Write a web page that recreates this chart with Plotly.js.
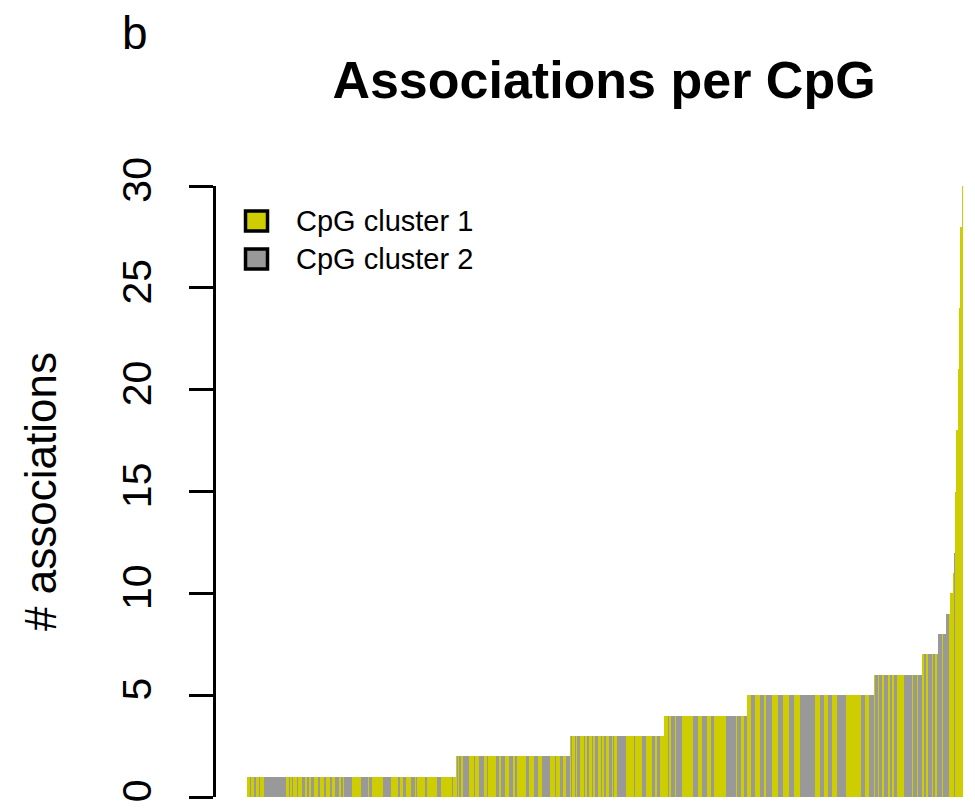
<!DOCTYPE html>
<html>
<head>
<meta charset="utf-8">
<script src="https://cdn.plot.ly/plotly-3.0.1.min.js"></script>
<style>
  html, body { margin: 0; padding: 0; background: #ffffff; }
  #chart { width: 975px; height: 810px; }
</style>
</head>
<body>
<div id="chart"></div>
<script>
// Number of associations per CpG, CpGs sorted by count.
// Each level lists how many CpGs have that many associations.
const assocLevels = [1, 2, 3, 4, 5, 6, 7, 8, 9, 10, 11, 12, 15, 18, 21, 24, 28, 30];
const cpgsPerLevel = [159, 87, 72, 63, 97, 37, 12, 6, 3, 2, 1, 1, 1, 1, 1, 1, 1, 1];

// Cluster membership of the CpGs inside each level, left to right,
// as runs: "y" = CpG cluster 1, "g" = CpG cluster 2.
const clusterRuns = [
  "y2 g1 y2 g2 y2 g1 y3 g17 y2 g1 y1 g1 y3 g1 y3 g2 y2 g1 y2 g2 y3 g2 y3 g1 y3 g2 y2 g3 y2 g1 y1 g6 y7 g5 y1 g2 y9 g6 y5 g2 y2 g2 y4 g3 y1 g1 y6 g1 y8 g3 y8 g1 y2",
  "y1 g1 y1 g1 y2 g4 y4 g1 y3 g4 y2 g1 y6 g2 y2 g3 y3 g3 y1 g2 y7 g2 y4 g3 y3 g6 y4 g1 y3 g2 y2 g3",
  "y1 g1 y2 g1 y1 g2 y3 g1 y1 g2 y2 g1 y1 g3 y2 g1 y1 g2 y2 g2 y1 g1 y2 g7 y6 g1 y5 g3 y5 g2 y2 g2 y3",
  "y3 g1 y1 g3 y1 g5 y8 g4 y3 g4 y3 g2 y9 g8 y1 g3 y2 g2",
  "y3 g3 y4 g3 y2 g4 y5 g4 y4 g4 y5 g11 y4 g3 y3 g3 y4 g7 y11 g3 y3 g4",
  "y1 g2 y1 g2 y2 g3 y1 g2 y1 g3 y5 g6 y1 g3 y1 g3",
  "y1 g2 y1 g3 y1 g2 y1 g1",
  "g3 y1 g2",
  "g2 y1",
  "y2",
  "y1", "g1", "y1", "y1", "y1", "y1", "y1", "y1"
];

const seriesNames = ["CpG cluster 1", "CpG cluster 2"];
const seriesColors = ["#CDCD00", "#999999"];

// Expand levels and runs into one entry per CpG.
const cpgValue = [];
const cpgCluster = [];
assocLevels.forEach(function (lvl, i) {
  const start = cpgValue.length;
  clusterRuns[i].trim().split(/\s+/).forEach(function (tok) {
    const cl = tok[0] === "y" ? 0 : 1;
    const n = parseInt(tok.slice(1), 10);
    for (let k = 0; k < n; k++) { cpgValue.push(lvl); cpgCluster.push(cl); }
  });
  if (cpgValue.length - start !== cpgsPerLevel[i]) {
    console.warn("run length mismatch at level " + lvl);
  }
});
const nCpG = cpgValue.length;

const traces = seriesNames.map(function (name, c) {
  const xs = [], ys = [];
  for (let i = 0; i < nCpG; i++) {
    if (cpgCluster[i] === c) { xs.push(i); ys.push(cpgValue[i]); }
  }
  return {
    type: "bar",
    name: name,
    x: xs,
    y: ys,
    width: 1,
    marker: { color: seriesColors[c], line: { width: 0 } },
    showlegend: false,
    hoverinfo: "y"
  };
});

const font = "Liberation Sans, Arial, Helvetica, sans-serif";

// Plot area in pixels: axis line at 216, bars from 247 to 962.7
const plotLeft = 216, plotRight = 962.7, plotTop = 186, plotBottom = 797;
const barsLeft = 247;
const unitPx = (plotRight - barsLeft) / nCpG;
const padUnits = (barsLeft - plotLeft) / unitPx;

function px2paperX(px) { return (px - plotLeft) / (plotRight - plotLeft); }
function px2paperY(py) { return (plotBottom - py) / (plotBottom - plotTop); }

// Legend key boxes and labels
const legendShapes = [];
const legendLabels = [];
seriesNames.forEach(function (name, c) {
  const cy = 221 + c * 38;
  legendShapes.push({
    type: "rect", xref: "paper", yref: "paper",
    x0: px2paperX(245.5), x1: px2paperX(267.5),
    y0: px2paperY(cy + 10), y1: px2paperY(cy - 10),
    fillcolor: seriesColors[c],
    line: { color: "#000000", width: 3.5 }
  });
  legendLabels.push({
    xref: "paper", yref: "paper",
    x: px2paperX(294), y: px2paperY(cy),
    xanchor: "left", yanchor: "middle",
    text: name, showarrow: false,
    font: { family: font, size: 29, color: "#000000" }
  });
});

const layout = {
  width: 975,
  height: 810,
  paper_bgcolor: "#ffffff",
  plot_bgcolor: "#ffffff",
  margin: { l: plotLeft, r: 975 - plotRight, t: plotTop, b: 810 - plotBottom, pad: 0 },
  barmode: "overlay",
  bargap: 0,
  showlegend: false,
  title: {
    text: "<b>Associations per CpG</b>",
    font: { family: font, size: 52, color: "#000000" },
    xref: "container", yref: "container",
    x: 604 / 975, y: 1 - 80 / 810,
    xanchor: "center", yanchor: "middle"
  },
  xaxis: {
    range: [-0.5 - padUnits, nCpG - 0.5],
    visible: false,
    fixedrange: true
  },
  yaxis: {
    range: [0, 30],
    tickvals: [0, 5, 10, 15, 20, 25, 30],
    ticktext: ["0", "5", "10", "15", "20", "25", "30"],
    tickangle: -90,
    ticks: "outside",
    ticklen: 24,
    tickwidth: 3,
    tickcolor: "#000000",
    ticklabelstandoff: 22,
    showline: true,
    linewidth: 3,
    linecolor: "#000000",
    showgrid: false,
    zeroline: false,
    tickfont: { family: font, size: 41, color: "#000000" },
    title: {
      text: "# associations",
      font: { family: font, size: 44, color: "#000000" },
      standoff: 44
    },
    automargin: false,
    fixedrange: true
  },
  shapes: legendShapes,
  annotations: [{
    xref: "paper", yref: "paper",
    x: px2paperX(135), y: px2paperY(33),
    xanchor: "center", yanchor: "middle",
    text: "b", showarrow: false,
    font: { family: font, size: 46, color: "#000000" }
  }].concat(legendLabels)
};

Plotly.newPlot("chart", traces, layout, { displayModeBar: false, staticPlot: true });
</script>
</body>
</html>
